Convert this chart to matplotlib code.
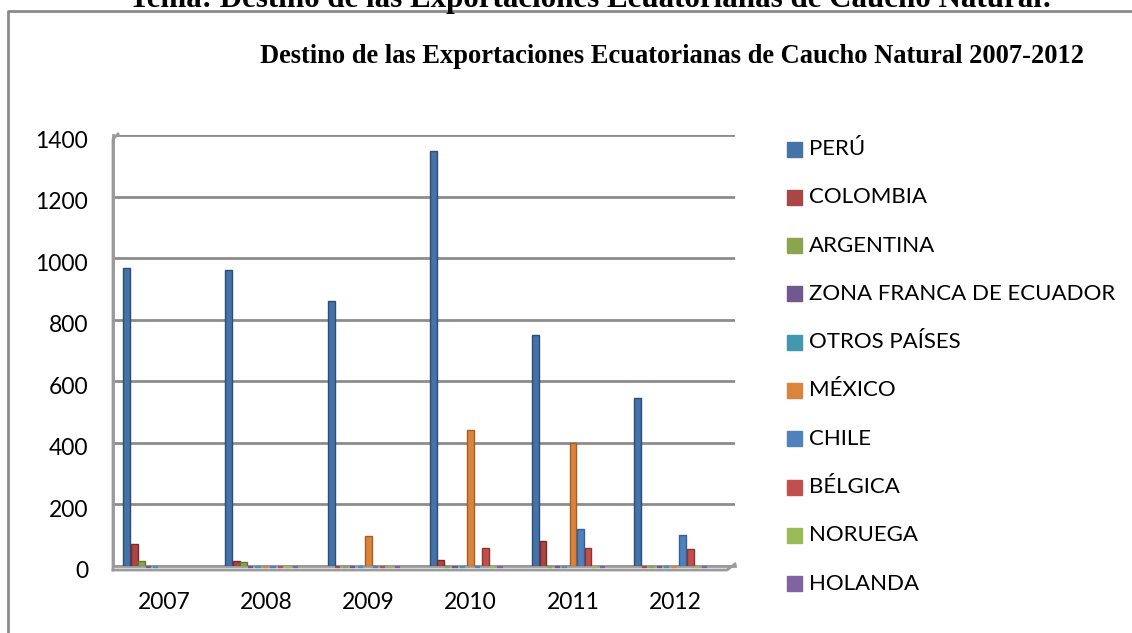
import matplotlib
matplotlib.use("Agg")
import matplotlib.pyplot as plt
import numpy as np
from matplotlib.lines import Line2D
from matplotlib.patches import Rectangle
from matplotlib.transforms import ScaledTranslation

W, H = 1132, 633

years = ["2007", "2008", "2009", "2010", "2011", "2012"]
countries = ["PERÚ", "COLOMBIA", "ARGENTINA", "ZONA FRANCA DE ECUADOR", "OTROS PAÍSES",
             "MÉXICO", "CHILE", "BÉLGICA", "NORUEGA", "HOLANDA"]
nan = np.nan
peru = [968, 960, 861, 1348, 750, 545]
colombia = [70, 15, 0, 20, 80, 0]
argentina = [15, 13, 0, 0, 0, 0]
zona_franca = [0, 0, 0, 0, 0, 0]
otros = [0, 0, 0, 0, 0, 0]
mexico = [nan, 0, 98, 442, 400, 0]
chile = [nan, 0, 0, 0, 120, 100]
belgica = [nan, 0, 0, 58, 58, 56]
noruega = [nan, 0, 0, 0, 0, 0]
holanda = [nan, 0, 0, 0, 0, 0]
series = [peru, colombia, argentina, zona_franca, otros, mexico, chile, belgica, noruega, holanda]

colors = ["#4572A7", "#AA4643", "#89A54E", "#71588F", "#4198AF",
          "#DB843D", "#4F81BD", "#C0504D", "#9BBB59", "#8064A2"]
edges = ["#2c4d78", "#7a2a28", "#5f7a30", "#4e3a68", "#2a6f82",
         "#a85c20", "#33629a", "#8f3330", "#6f8c3a", "#5c4578"]

plt.rcParams["font.family"] = ["Lato", "DejaVu Sans"]

fig = plt.figure(figsize=(W / 100, H / 100), dpi=100)


def fx(px):
    return px / W


def fy(py):
    return 1 - py / H


# axes: left 113px, right 735px, zero at 566px, 1400 at 135px
ax = fig.add_axes([fx(113), fy(566), fx(735) - fx(113), fy(135) - fy(566)])
ax.set_ylim(0, 1400)
ax.set_xlim(-0.5, 622 / 102.2 - 0.5)

bw = 7.5 / 102.2
x = np.arange(len(years))
for k, (vals, c, e) in enumerate(zip(series, colors, edges)):
    v = np.array(vals, dtype=float)
    pos = x - 0.40 + k * bw
    nz = np.where(v > 0, v, np.nan)
    ax.bar(pos, nz, width=bw * 0.92, align="edge", color=c,
           edgecolor=e, linewidth=1.0, zorder=3)
    # zero values: flat tops lying on the 3D floor
    zr = np.where(v == 0, 0.0, np.nan)
    ax.bar(pos, zr, bottom=-3, width=bw * 0.7, align="edge", color=c,
           edgecolor=c, linewidth=1.6, zorder=3, clip_on=False)

ax.set_yticks(np.arange(0, 1401, 200))
ax.set_xticks(x)
ax.set_xticklabels(years)
ax.tick_params(axis="both", length=0, labelsize=16.5, colors="black")
ax.tick_params(axis="y", pad=18)
ax.tick_params(axis="x", pad=19)
shift = ScaledTranslation(0, -4 / 100, fig.dpi_scale_trans)
for lab in ax.get_yticklabels():
    lab.set_transform(lab.get_transform() + shift)
ax.yaxis.grid(True, color="#8c8c8c", linewidth=2, zorder=0)
ax.set_axisbelow(True)
for s in ["top", "right"]:
    ax.spines[s].set_visible(False)
ax.spines["left"].set_color("#9a9a9a")
ax.spines["left"].set_linewidth(2)
ax.spines["bottom"].set_color("#9a9a9a")
ax.spines["bottom"].set_linewidth(2)

# 3D floor front edge and wall corner
fig.add_artist(Line2D([fx(113), fx(727), fx(735)], [fy(570), fy(570), fy(564)],
                      color="#9a9a9a", linewidth=2))
fig.add_artist(Line2D([fx(113), fx(113), fx(118)], [fy(570), fy(139), fy(134)],
                      color="#9a9a9a", linewidth=2))

# outer chart frame
fig.add_artist(Line2D([fx(8), fx(8), fx(W)], [fy(H), fy(11), fy(11)],
                      color="#8a8a8a", linewidth=2))

# page heading (cut off at the top, as in the source) and chart title
fig.text(fx(591), fy(7), "Tema: Destino de las Exportaciones Ecuatorianas de Caucho Natural:",
         ha="center", va="baseline", family="Liberation Serif", fontweight="bold", fontsize=22.3)
fig.text(fx(672), fy(63), "Destino de las Exportaciones Ecuatorianas de Caucho Natural 2007-2012",
         ha="center", va="baseline", family="Liberation Serif", fontweight="bold", fontsize=19.1)

# legend
for k, (name, c) in enumerate(zip(countries, colors)):
    yc = 149 + k * 48.3
    fig.add_artist(Rectangle((fx(787), fy(yc + 7.5)), fx(15), 15 / H, color=c,
                             transform=fig.transFigure))
    fig.text(fx(809), fy(yc), name, ha="left", va="center", fontsize=16)

fig.savefig("out.png", dpi=100)
